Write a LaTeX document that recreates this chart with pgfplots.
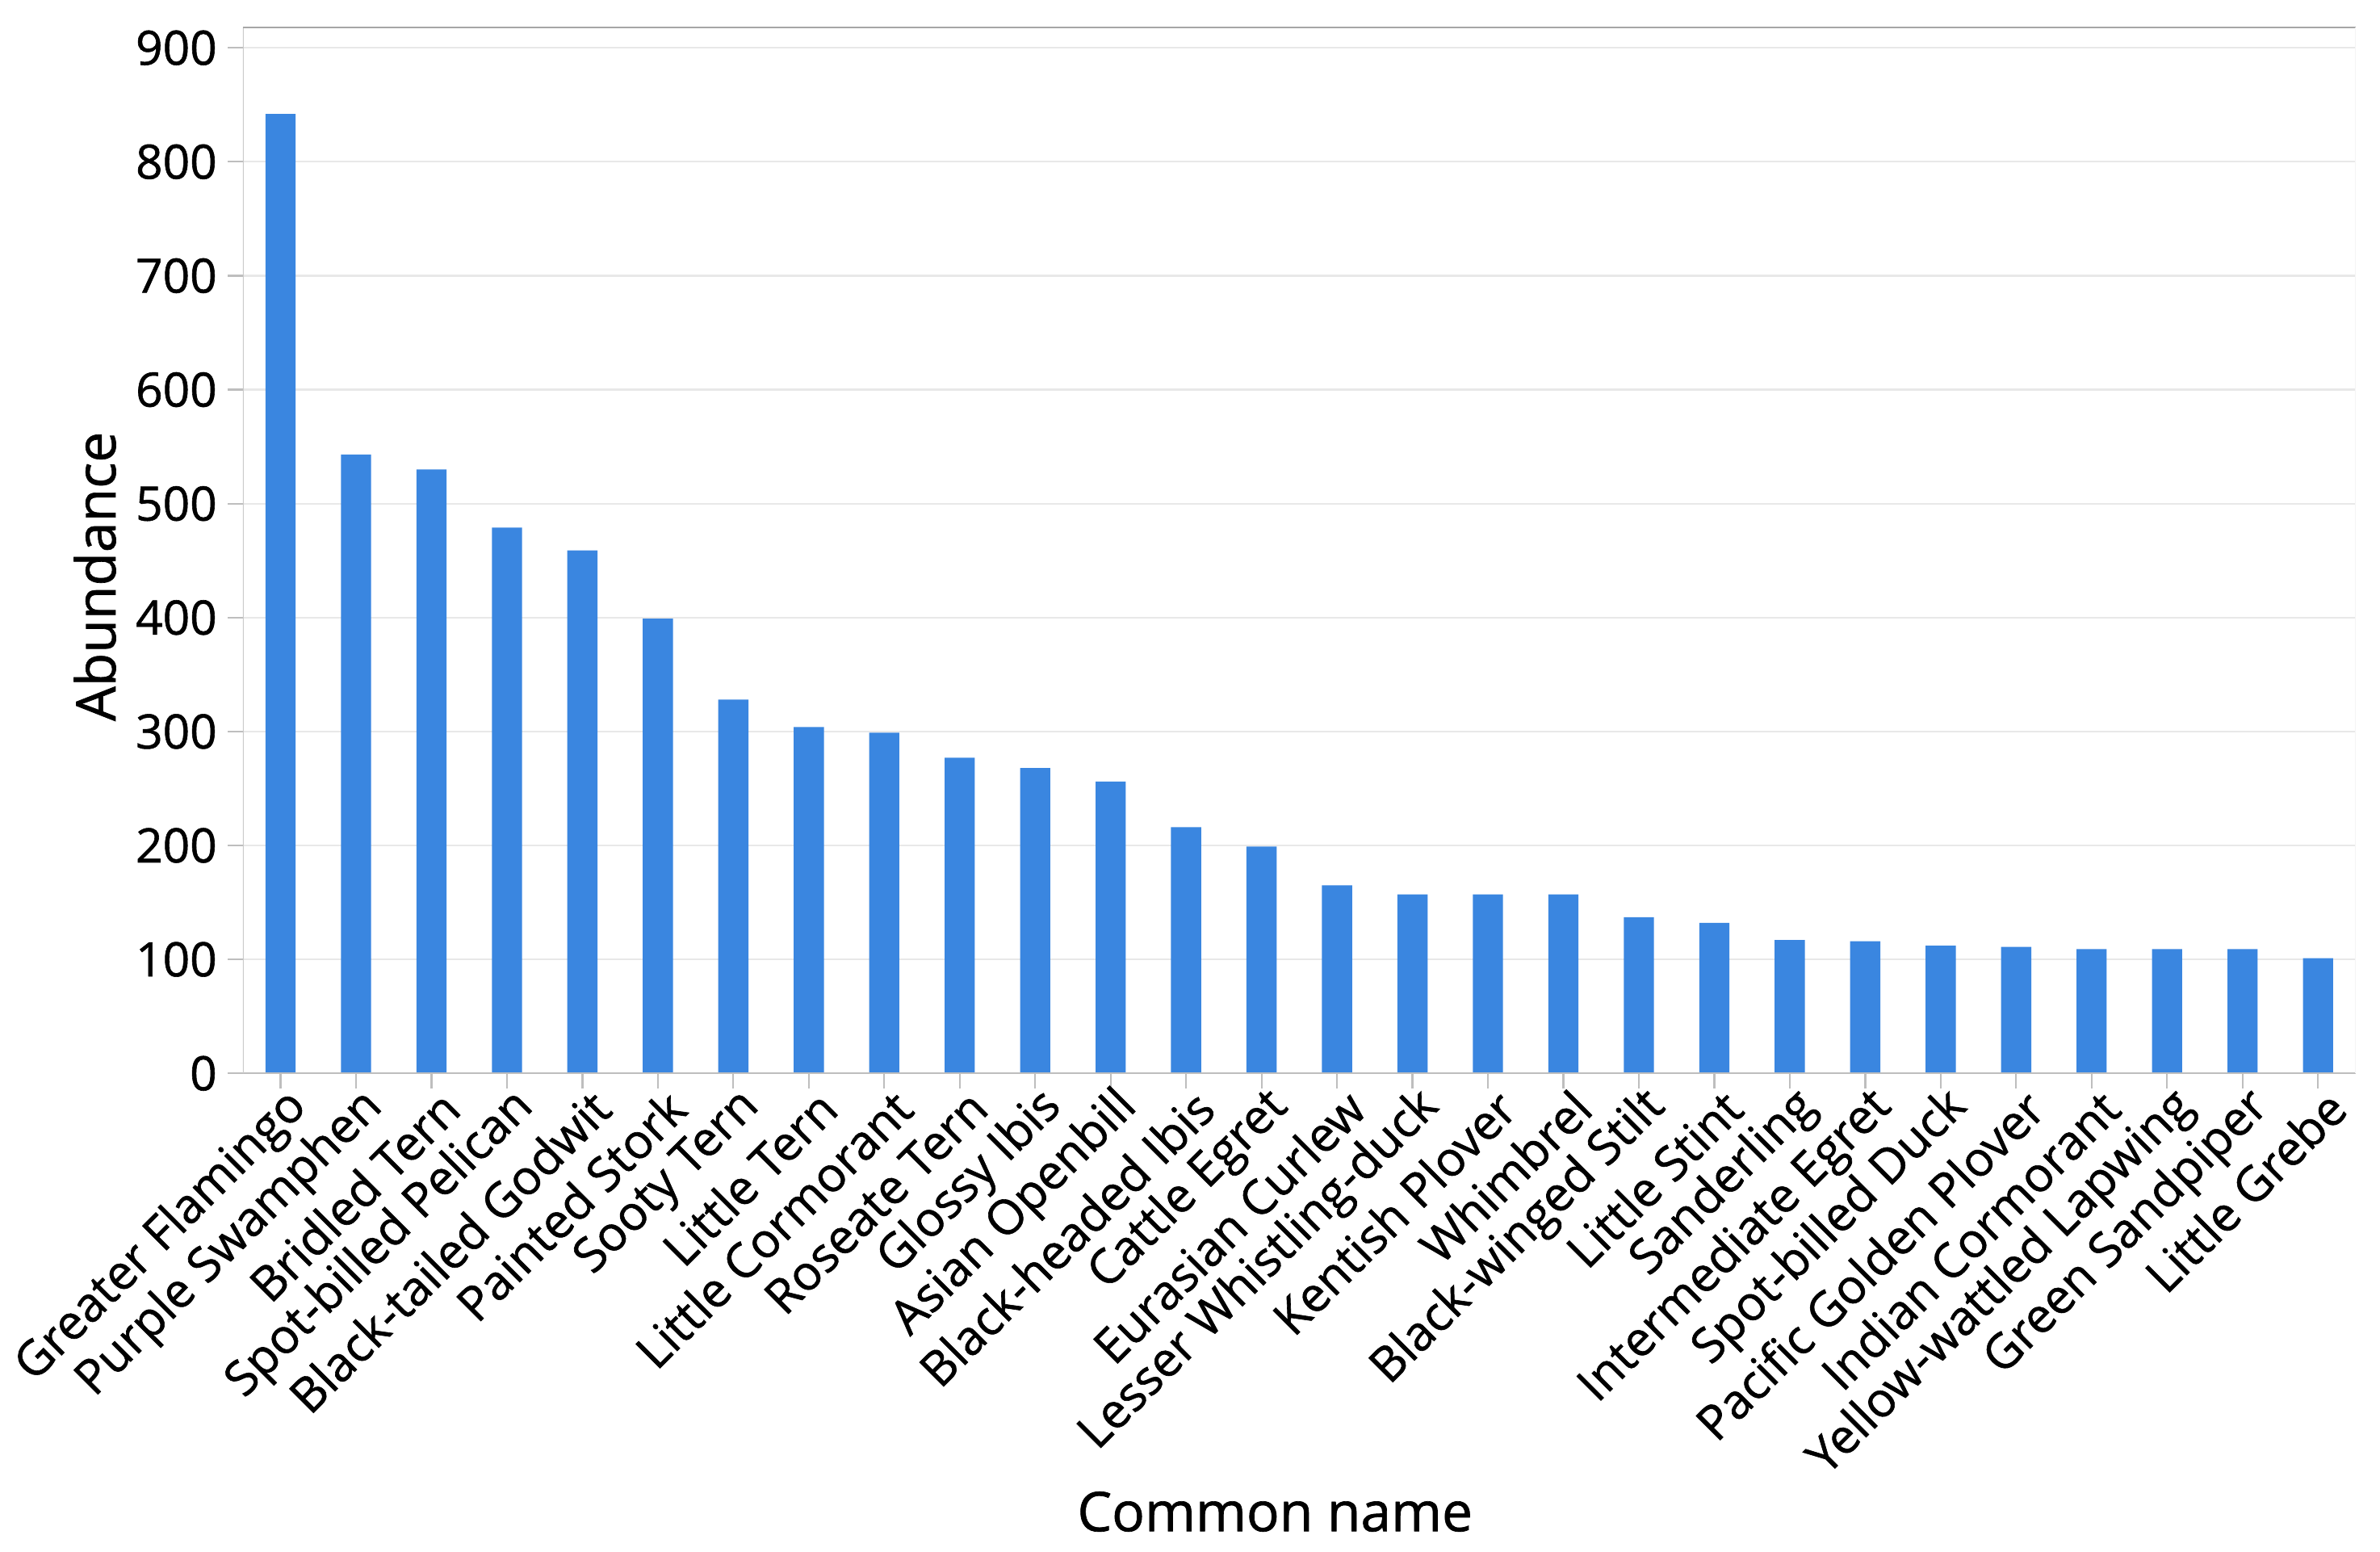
\documentclass[border=0pt]{standalone}
\usepackage{pgfplots}
\pgfplotsset{compat=1.18}
\usepackage{fontspec}
\setmainfont{Open Sans}[FakeBold=1.0]
\definecolor{barblue}{RGB}{58,134,224}
\definecolor{gridgray}{RGB}{232,232,232}
\definecolor{axgray}{RGB}{190,190,190}
\begin{document}
\begin{tikzpicture}
\begin{axis}[
  scale only axis=true,
  width=696pt, height=344.5pt,
  xmin=-0.5, xmax=27.5,
  ymin=0, ymax=918,
  ytick={0,100,...,900},
  xtick={0,...,27},
  xticklabels={Greater Flamingo,Purple Swamphen,Bridled Tern,Spot-billed Pelican,Black-tailed Godwit,Painted Stork,Sooty Tern,Little Tern,Little Cormorant,Roseate Tern,Glossy Ibis,Asian Openbill,Black-headed Ibis,Cattle Egret,Eurasian Curlew,Lesser Whistling-duck,Kentish Plover,Whimbrel,Black-winged Stilt,Little Stint,Sanderling,Intermediate Egret,Spot-billed Duck,Pacific Golden Plover,Indian Cormorant,Yellow-wattled Lapwing,Green Sandpiper,Little Grebe},
  xticklabel style={rotate=45, anchor=east, font=\fontsize{15.8}{18}\selectfont, inner sep=1pt, xshift=3pt, yshift=-7pt},
  yticklabel style={font=\fontsize{15.6}{18}\selectfont},
  /pgf/number format/assume math mode=true,
  tick align=outside,
  major tick length=5pt,
  tick style={axgray, line width=0.6pt},
  xtick pos=bottom, ytick pos=left,
  ymajorgrids=true,
  grid style={gridgray, line width=0.6pt},
  axis line style={draw=none},
  ylabel={Abundance},
  xlabel={Common name},
  ylabel style={at={(axis description cs:-0.07,0.475)}, anchor=center, font=\fontsize{18}{21}\selectfont},
  xlabel style={at={(axis description cs:0.4885,-0.419)}, anchor=center, font=\fontsize{18}{21}\selectfont},
  ybar, bar width=0.4,
]
\addplot[fill=barblue, draw=none] coordinates {
(0,842) (1,543) (2,530) (3,479) (4,459) (5,399) (6,328) (7,304) (8,299) (9,277)
(10,268) (11,256) (12,216) (13,199) (14,165) (15,157) (16,157) (17,157) (18,137) (19,132)
(20,117) (21,116) (22,112) (23,111) (24,109) (25,109) (26,109) (27,101)
};
\draw[axgray, line width=0.7pt] (rel axis cs:0,0) -- (rel axis cs:1,0);
\draw[axgray!80, line width=0.6pt] (rel axis cs:0,0) -- (rel axis cs:0,1);
\draw[gray!70, line width=0.8pt] (rel axis cs:0,1) -- (rel axis cs:1,1);
\draw[gray!8, line width=0.6pt] (rel axis cs:1,0) -- (rel axis cs:1,1);
\coordinate (A) at (rel axis cs:0,0);
\coordinate (B) at (rel axis cs:1,1);
\end{axis}
\pgfresetboundingbox
\path ([shift={(-80pt,-157.5pt)}]A) rectangle ([shift={(8pt,9pt)}]B);
\end{tikzpicture}
\end{document}
